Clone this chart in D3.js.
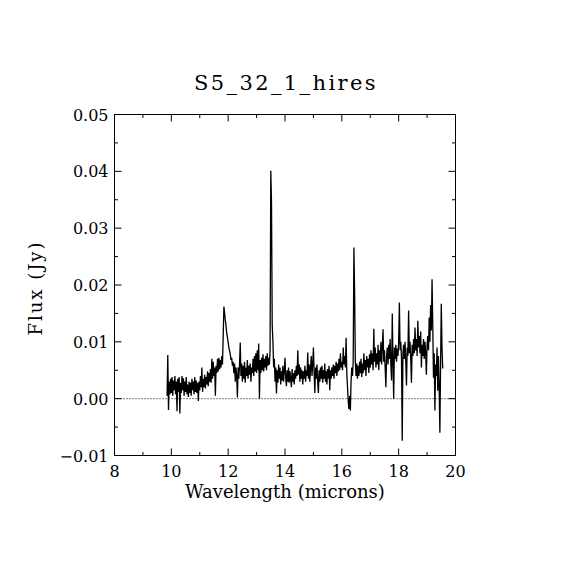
<!DOCTYPE html>
<html lang="en">
<head>
    <meta charset="UTF-8">
    <title>S5_32_1_hires</title>
    <script src="https://d3js.org/d3.v7.min.js"></script>
    <style>
        body { margin: 0; background: #fff; }
        text { font-family: "DejaVu Serif", "Liberation Serif", serif; fill: #000; }
    </style>
</head>
<body>
    <svg width="570" height="570"></svg>
    <script>
// Spectrum (wavelength in microns, flux in Jy), one row per micron
const wavelength = [
    9.850, 9.875, 9.900, 9.925, 9.950, 9.975,
    10.000, 10.025, 10.050, 10.075, 10.100, 10.125, 10.150, 10.175, 10.200, 10.225, 10.250, 10.275, 10.300, 10.325, 10.350, 10.375, 10.400, 10.425, 10.450, 10.475,
    10.500, 10.525, 10.550, 10.575, 10.600, 10.625, 10.650, 10.675, 10.700, 10.725, 10.750, 10.775, 10.800, 10.825, 10.850, 10.875, 10.900, 10.925, 10.950, 10.975,
    11.000, 11.025, 11.050, 11.075, 11.100, 11.125, 11.150, 11.175, 11.200, 11.225, 11.250, 11.275, 11.300, 11.325, 11.350, 11.375, 11.400, 11.425, 11.450, 11.475,
    11.500, 11.525, 11.550, 11.575, 11.600, 11.625, 11.650, 11.675, 11.700, 11.725, 11.750, 11.775, 11.800, 11.825, 11.850, 11.875, 11.900, 11.925, 11.950, 11.975,
    12.000, 12.025, 12.050, 12.075, 12.100, 12.125, 12.150, 12.175, 12.200, 12.225, 12.250, 12.275, 12.300, 12.325, 12.350, 12.375, 12.400, 12.425, 12.450, 12.475,
    12.500, 12.525, 12.550, 12.575, 12.600, 12.625, 12.650, 12.675, 12.700, 12.725, 12.750, 12.775, 12.800, 12.825, 12.850, 12.875, 12.900, 12.925, 12.950, 12.975,
    13.000, 13.025, 13.050, 13.075, 13.100, 13.125, 13.150, 13.175, 13.200, 13.225, 13.250, 13.275, 13.300, 13.325, 13.350, 13.375, 13.400, 13.425, 13.450, 13.475,
    13.500, 13.525, 13.550, 13.575, 13.600, 13.625, 13.650, 13.675, 13.700, 13.725, 13.750, 13.775, 13.800, 13.825, 13.850, 13.875, 13.900, 13.925, 13.950, 13.975,
    14.000, 14.025, 14.050, 14.075, 14.100, 14.125, 14.150, 14.175, 14.200, 14.225, 14.250, 14.275, 14.300, 14.325, 14.350, 14.375, 14.400, 14.425, 14.450, 14.475,
    14.500, 14.525, 14.550, 14.575, 14.600, 14.625, 14.650, 14.675, 14.700, 14.725, 14.750, 14.775, 14.800, 14.825, 14.850, 14.875, 14.900, 14.925, 14.950, 14.975,
    15.000, 15.025, 15.050, 15.075, 15.100, 15.125, 15.150, 15.175, 15.200, 15.225, 15.250, 15.275, 15.300, 15.325, 15.350, 15.375, 15.400, 15.425, 15.450, 15.475,
    15.500, 15.525, 15.550, 15.575, 15.600, 15.625, 15.650, 15.675, 15.700, 15.725, 15.750, 15.775, 15.800, 15.825, 15.850, 15.875, 15.900, 15.925, 15.950, 15.975,
    16.000, 16.025, 16.050, 16.075, 16.100, 16.125, 16.150, 16.175, 16.200, 16.225, 16.250, 16.275, 16.300, 16.325, 16.350, 16.375, 16.400, 16.425, 16.450, 16.475,
    16.500, 16.525, 16.550, 16.575, 16.600, 16.625, 16.650, 16.675, 16.700, 16.725, 16.750, 16.775, 16.800, 16.825, 16.850, 16.875, 16.900, 16.925, 16.950, 16.975,
    17.000, 17.025, 17.050, 17.075, 17.100, 17.125, 17.150, 17.175, 17.200, 17.225, 17.250, 17.275, 17.300, 17.325, 17.350, 17.375, 17.400, 17.425, 17.450, 17.475,
    17.500, 17.525, 17.550, 17.575, 17.600, 17.625, 17.650, 17.675, 17.700, 17.725, 17.750, 17.775, 17.800, 17.825, 17.850, 17.875, 17.900, 17.925, 17.950, 17.975,
    18.000, 18.025, 18.050, 18.075, 18.100, 18.125, 18.150, 18.175, 18.200, 18.225, 18.250, 18.275, 18.300, 18.325, 18.350, 18.375, 18.400, 18.425, 18.450, 18.475,
    18.500, 18.525, 18.550, 18.575, 18.600, 18.625, 18.650, 18.675, 18.700, 18.725, 18.750, 18.775, 18.800, 18.825, 18.850, 18.875, 18.900, 18.925, 18.950, 18.975,
    19.000, 19.025, 19.050, 19.075, 19.100, 19.125, 19.150, 19.175, 19.200, 19.225, 19.250, 19.275, 19.300, 19.325, 19.350, 19.375, 19.400, 19.425, 19.450, 19.475,
    19.500, 19.525, 19.550
];
const flux = [
    0.0005, 0.0077, -0.0020, 0.0030, 0.0008, 0.0035,
    0.0010, 0.0038, 0.0005, 0.0032, 0.0015, 0.0040, 0.0008, 0.0030, -0.0022, 0.0035, 0.0012, 0.0038, -0.0026, 0.0028, 0.0010, 0.0040, 0.0015, 0.0036, 0.0005, 0.0030,
    0.0012, 0.0038, 0.0008, 0.0025, 0.0003, 0.0030, 0.0010, 0.0028, 0.0005, 0.0035, 0.0015, 0.0030, 0.0008, 0.0038, 0.0012, 0.0032, 0.0010, 0.0028, -0.0004, 0.0030,
    0.0015, 0.0040, 0.0020, 0.0055, 0.0012, 0.0035, 0.0020, 0.0042, 0.0018, 0.0038, 0.0025, 0.0048, 0.0022, 0.0045, 0.0030, 0.0052, 0.0028, 0.0070, 0.0035, 0.0065,
    0.0040, 0.0055, 0.0005, 0.0058, 0.0045, 0.0070, 0.0048, 0.0072, 0.0052, 0.0068, 0.0055, 0.0075, 0.0060, 0.0110, 0.0162, 0.0150, 0.0138, 0.0128, 0.0115, 0.0108,
    0.0098, 0.0090, 0.0084, 0.0078, 0.0068, 0.0072, 0.0058, 0.0065, 0.0045, 0.0062, 0.0030, 0.0055, 0.0040, 0.0002, 0.0055, 0.0035, 0.0060, 0.0099, 0.0040, 0.0062,
    0.0030, 0.0058, 0.0035, 0.0065, 0.0028, 0.0055, 0.0040, 0.0068, 0.0035, 0.0058, 0.0042, 0.0062, 0.0030, 0.0055, 0.0045, 0.0070, 0.0040, 0.0075, 0.0048, 0.0080,
    0.0045, 0.0085, 0.0050, 0.0097, 0.0000, 0.0068, 0.0045, 0.0072, 0.0050, 0.0078, 0.0048, 0.0070, 0.0055, 0.0075, 0.0050, 0.0080, 0.0058, 0.0072, 0.0060, 0.0085,
    0.0401, 0.0345, 0.0130, 0.0100, 0.0055, 0.0070, 0.0030, 0.0055, 0.0009, 0.0050, 0.0028, 0.0060, 0.0035, 0.0055, 0.0025, 0.0048, 0.0032, 0.0058, 0.0030, 0.0050,
    0.0072, 0.0035, 0.0022, 0.0050, 0.0030, 0.0055, 0.0028, 0.0048, 0.0035, 0.0020, 0.0052, 0.0030, 0.0045, 0.0025, 0.0050, 0.0035, 0.0058, 0.0040, 0.0085, 0.0042,
    0.0060, 0.0030, 0.0055, 0.0035, 0.0050, 0.0025, 0.0048, 0.0035, 0.0058, 0.0030, 0.0050, 0.0040, 0.0081, 0.0035, 0.0060, 0.0030, 0.0055, 0.0075, 0.0040, 0.0060,
    0.0090, 0.0045, 0.0010, 0.0055, 0.0035, 0.0060, 0.0030, 0.0010, 0.0050, 0.0030, 0.0055, 0.0035, 0.0058, 0.0028, 0.0050, 0.0035, 0.0062, 0.0030, 0.0048, 0.0025,
    0.0052, 0.0035, 0.0058, 0.0015, 0.0050, 0.0035, 0.0055, 0.0040, 0.0060, 0.0035, 0.0058, 0.0045, 0.0065, 0.0040, 0.0062, 0.0048, 0.0070, 0.0050, 0.0080, 0.0055,
    0.0065, 0.0050, 0.0090, 0.0060, 0.0075, 0.0055, 0.0107, 0.0045, 0.0020, -0.0005, -0.0018, 0.0005, -0.0021, 0.0030, 0.0055, 0.0040, 0.0065, 0.0266, 0.0188, 0.0065,
    0.0040, 0.0062, 0.0035, 0.0058, 0.0040, 0.0065, 0.0045, 0.0070, 0.0038, 0.0062, 0.0045, 0.0080, 0.0050, 0.0068, 0.0040, 0.0075, 0.0055, 0.0070, 0.0045, 0.0078,
    0.0055, 0.0085, 0.0060, 0.0080, 0.0050, 0.0123, 0.0065, 0.0090, 0.0055, 0.0080, 0.0060, 0.0095, 0.0050, 0.0085, 0.0065, 0.0100, 0.0060, 0.0090, 0.0122, 0.0065,
    0.0085, 0.0055, 0.0020, 0.0075, 0.0090, 0.0060, 0.0095, 0.0070, 0.0105, 0.0060, 0.0032, 0.0150, 0.0065, 0.0000, 0.0090, 0.0070, 0.0095, 0.0065, 0.0088, 0.0075,
    0.0100, 0.0169, 0.0085, 0.0100, 0.0070, -0.0074, 0.0080, 0.0095, 0.0070, 0.0100, 0.0065, 0.0023, 0.0090, 0.0075, 0.0155, 0.0080, 0.0100, 0.0070, 0.0028, 0.0095,
    0.0075, 0.0105, 0.0080, 0.0125, 0.0085, 0.0105, 0.0075, 0.0137, 0.0090, 0.0110, 0.0080, 0.0118, 0.0055, 0.0095, 0.0075, 0.0105, 0.0070, 0.0100, 0.0080, 0.0042,
    0.0095, 0.0110, 0.0085, 0.0143, 0.0100, 0.0165, 0.0120, 0.0210, 0.0130, 0.0037, 0.0080, -0.0021, 0.0060, 0.0040, 0.0090, 0.0014, 0.0075, 0.0020, -0.0060, 0.0060,
    0.0167, 0.0090, 0.0053
];

const xMajor = [8, 10, 12, 14, 16, 18, 20];
const xMinor = [9, 11, 13, 15, 17, 19];
const yMajor = [-0.01, 0.00, 0.01, 0.02, 0.03, 0.04, 0.05];
const yMinor = [-0.005, 0.005, 0.015, 0.025, 0.035, 0.045];

const plotLeft = 114.5, plotRight = 455.5, plotTop = 114.5, plotBottom = 455.5;

const svg = d3.select('svg');

const x = d3.scaleLinear().domain([8, 20]).range([plotLeft, plotRight]);
const y = d3.scaleLinear().domain([-0.01, 0.05]).range([plotBottom, plotTop]);

// frame
svg.append('rect')
    .attr('x', plotLeft).attr('y', plotTop)
    .attr('width', plotRight - plotLeft).attr('height', plotBottom - plotTop)
    .attr('fill', 'none').attr('stroke', '#000').attr('stroke-width', 1);

// inward ticks on all four sides
function ticks(vals, len) {
    const g = svg.append('g').attr('stroke', '#000').attr('stroke-width', 1);
    vals.x.forEach(v => {
        g.append('line').attr('x1', x(v)).attr('x2', x(v)).attr('y1', plotBottom).attr('y2', plotBottom - len);
        g.append('line').attr('x1', x(v)).attr('x2', x(v)).attr('y1', plotTop).attr('y2', plotTop + len);
    });
    vals.y.forEach(v => {
        g.append('line').attr('y1', y(v)).attr('y2', y(v)).attr('x1', plotLeft).attr('x2', plotLeft + len);
        g.append('line').attr('y1', y(v)).attr('y2', y(v)).attr('x1', plotRight).attr('x2', plotRight - len);
    });
}
ticks({x: xMajor, y: yMajor}, 7);
ticks({x: xMinor, y: yMinor}, 3.5);

// tick labels
svg.append('g').selectAll('text')
    .data(xMajor).enter().append('text')
    .attr('x', d => x(d)).attr('y', plotBottom + 21)
    .attr('text-anchor', 'middle').attr('font-size', 16)
    .text(d => d);

const fmt = d3.format('.2f');
svg.append('g').selectAll('text')
    .data(yMajor).enter().append('text')
    .attr('x', plotLeft - 6).attr('y', d => y(d) + 6)
    .attr('text-anchor', 'end').attr('font-size', 16)
    .text(d => fmt(d));

// zero line
svg.append('line')
    .attr('x1', plotLeft).attr('x2', plotRight)
    .attr('y1', y(0)).attr('y2', y(0))
    .attr('stroke', '#000').attr('stroke-dasharray', '1,2');

// spectrum
const line = d3.line().x(d => x(d[0])).y(d => y(d[1]));
svg.append('path')
    .datum(wavelength.map((w, i) => [w, flux[i]]))
    .attr('d', line)
    .attr('fill', 'none').attr('stroke', '#000').attr('stroke-width', 1.3)
    .attr('stroke-linejoin', 'miter').attr('stroke-miterlimit', 2);

// titles
svg.append('text')
    .attr('x', 286).attr('y', 90)
    .attr('text-anchor', 'middle').attr('font-size', 21)
    .attr('letter-spacing', 2.4)
    .text('S5_32_1_hires');

svg.append('text')
    .attr('x', 285).attr('y', 498)
    .attr('text-anchor', 'middle').attr('font-size', 18)
    .text('Wavelength (microns)');

svg.append('text')
    .attr('transform', 'translate(42,288) rotate(-90)')
    .attr('text-anchor', 'middle').attr('font-size', 18)
    .attr('letter-spacing', 2)
    .text('Flux (Jy)');
    </script>
</body>
</html>
